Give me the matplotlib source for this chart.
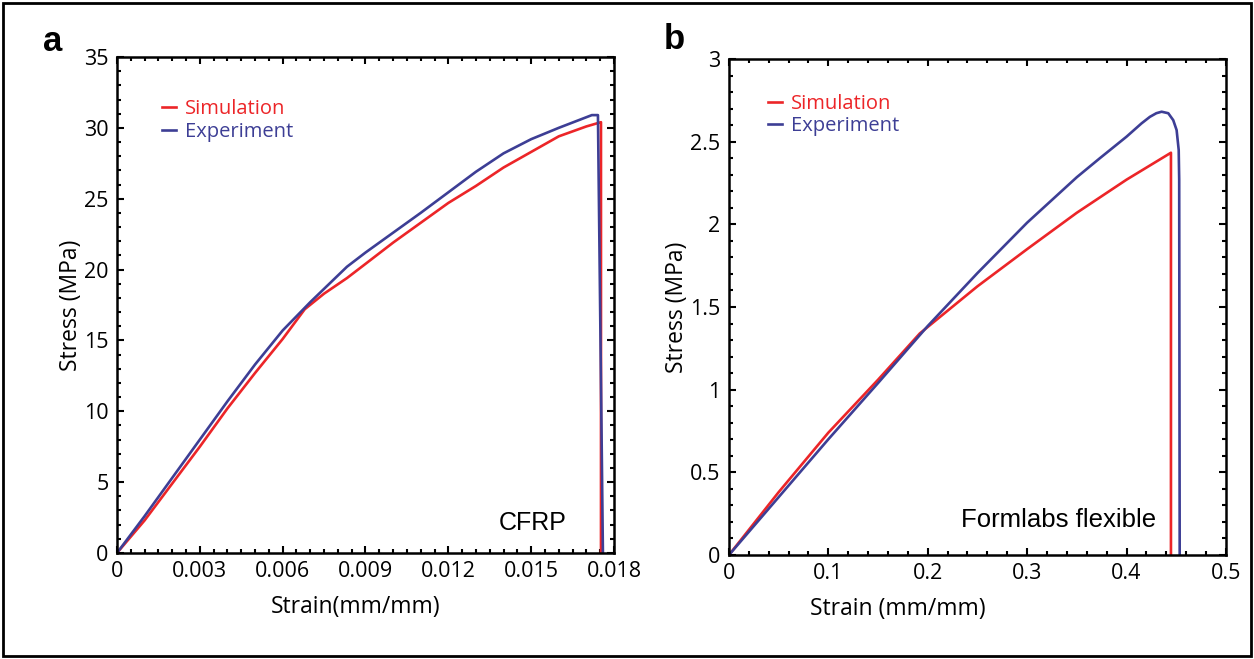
import matplotlib.pyplot as plt
from matplotlib.ticker import MultipleLocator
from matplotlib.patches import Rectangle

# Panel a: CFRP
cfrp_sim_strain = [0, 0.001, 0.002, 0.003, 0.004, 0.005, 0.006, 0.0068, 0.0075, 0.00833, 0.009, 0.010,
                   0.011, 0.012, 0.013, 0.014, 0.015, 0.016, 0.017, 0.01753, 0.01753]
cfrp_sim_stress = [0, 2.3, 4.9, 7.5, 10.2, 12.7, 15.1, 17.2, 18.3, 19.4, 20.4, 21.9,
                   23.3, 24.7, 25.9, 27.2, 28.3, 29.4, 30.1, 30.4, 0]
cfrp_exp_strain = [0, 0.001, 0.002, 0.003, 0.004, 0.005, 0.006, 0.007, 0.00833, 0.009, 0.010, 0.011,
                   0.012, 0.013, 0.014, 0.015, 0.016, 0.0168, 0.0172, 0.01742, 0.0176]
cfrp_exp_stress = [0, 2.6, 5.3, 8.0, 10.7, 13.3, 15.7, 17.7, 20.2, 21.2, 22.6, 24.0,
                   25.45, 26.9, 28.2, 29.2, 30.0, 30.6, 30.9, 30.9, 0]

# Panel b: Formlabs flexible
flex_sim_strain = [0, 0.05, 0.1, 0.15, 0.192, 0.25, 0.3, 0.35, 0.4, 0.4447, 0.4447]
flex_sim_stress = [0, 0.38, 0.74, 1.06, 1.34, 1.625, 1.85, 2.07, 2.27, 2.433, 0]
flex_exp_strain = [0, 0.05, 0.1, 0.15, 0.2, 0.25, 0.3, 0.35, 0.3732, 0.4, 0.415, 0.4235, 0.43, 0.4353,
                   0.442, 0.447, 0.4504, 0.4525, 0.453, 0.4535]
flex_exp_stress = [0, 0.35, 0.70, 1.04, 1.385, 1.705, 2.01, 2.285, 2.40, 2.53, 2.61, 2.65, 2.672, 2.681,
                   2.672, 2.63, 2.57, 2.45, 2.27, 0]

RED = '#ec2528'
BLUE = '#3d3e95'

plt.rcParams['font.family'] = 'Open Sans'

fig = plt.figure(figsize=(12.54, 6.59), dpi=100)
fig.patches.append(Rectangle((0.002, 0.004), 0.996, 0.992, transform=fig.transFigure,
                             fill=False, edgecolor='black', linewidth=2))

ax1 = fig.add_axes([0.0933, 0.1609, 0.3963, 0.7526])
ax2 = fig.add_axes([0.5813, 0.1578, 0.3963, 0.7527])


def style(ax, xmaj, xmin, ymaj, ymin):
    ax.xaxis.set_major_locator(MultipleLocator(xmaj))
    ax.xaxis.set_minor_locator(MultipleLocator(xmin))
    ax.yaxis.set_major_locator(MultipleLocator(ymaj))
    ax.yaxis.set_minor_locator(MultipleLocator(ymin))
    ax.tick_params(which='both', direction='in', top=True, right=True, width=1.5, labelsize=15.5, pad=6)
    ax.tick_params(which='major', length=5)
    ax.tick_params(which='minor', length=3)
    for s in ax.spines.values():
        s.set_linewidth(1.8)


ax1.plot(cfrp_sim_strain, cfrp_sim_stress, color=RED, lw=1.9, label='Simulation')
ax1.plot(cfrp_exp_strain, cfrp_exp_stress, color=BLUE, lw=1.9, label='Experiment')
ax1.set_xlim(0, 0.018)
ax1.set_ylim(0, 35)
style(ax1, 0.003, 0.0005, 5, 1)
ax1.set_xticks([0, 0.003, 0.006, 0.009, 0.012, 0.015, 0.018])
ax1.set_xticklabels(['0', '0.003', '0.006', '0.009', '0.012', '0.015', '0.018'])
ax1.set_yticks(range(0, 36, 5))
ax1.set_yticklabels([str(v) for v in range(0, 36, 5)])
ax1.set_xlabel('Strain(mm/mm)', fontsize=16.5)
ax1.set_ylabel('Stress (MPa)', fontsize=16.5, labelpad=1)
ax1.xaxis.set_label_coords(0.48, -0.085)
ax1.text(0.905, 0.06, 'CFRP', transform=ax1.transAxes, ha='right', va='center',
         fontsize=18, family='Liberation Sans')
ax1.legend(loc='upper left', bbox_to_anchor=(0.09, 0.915), frameon=False, fontsize=14.5,
           handlelength=0.72, handletextpad=0.45, labelspacing=0.12, borderpad=0,
           borderaxespad=0, labelcolor='linecolor')

ax2.plot(flex_sim_strain, flex_sim_stress, color=RED, lw=1.9, label='Simulation')
ax2.plot(flex_exp_strain, flex_exp_stress, color=BLUE, lw=1.9, label='Experiment')
ax2.set_xlim(0, 0.5)
ax2.set_ylim(0, 3)
style(ax2, 0.1, 0.02, 0.5, 0.1)
ax2.set_xticks([0, 0.1, 0.2, 0.3, 0.4, 0.5])
ax2.set_xticklabels(['0', '0.1', '0.2', '0.3', '0.4', '0.5'])
ax2.set_yticks([0, 0.5, 1, 1.5, 2, 2.5, 3])
ax2.set_yticklabels(['0', '0.5', '1', '1.5', '2', '2.5', '3'])
ax2.set_xlabel('Strain (mm/mm)', fontsize=16.5)
ax2.set_ylabel('Stress (MPa)', fontsize=16.5, labelpad=1)
ax2.xaxis.set_label_coords(0.34, -0.085)
ax2.text(0.86, 0.07, 'Formlabs flexible', transform=ax2.transAxes, ha='right', va='center',
         fontsize=18.5, family='Liberation Sans')
ax2.legend(loc='upper left', bbox_to_anchor=(0.078, 0.93), frameon=False, fontsize=14.5,
           handlelength=0.72, handletextpad=0.45, labelspacing=0.12, borderpad=0,
           borderaxespad=0, labelcolor='linecolor')

fig.text(0.034, 0.937, 'a', fontsize=25, fontweight='bold', family='Liberation Sans', va='center')
fig.text(0.529, 0.94, 'b', fontsize=25, fontweight='bold', family='Liberation Sans', va='center')

fig.savefig('out.png', dpi=100)
